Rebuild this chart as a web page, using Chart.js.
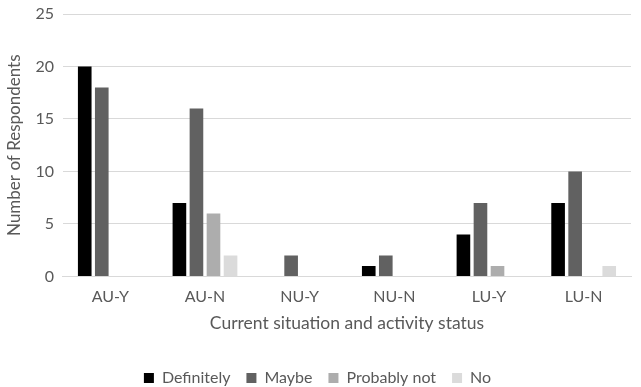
<!DOCTYPE html>
<html>
<head>
<meta charset="utf-8">
<script src="https://cdn.jsdelivr.net/npm/chart.js"></script>
<style>
  html, body { margin: 0; padding: 0; background: #fff; }
  #wrap { width: 641px; height: 387px; }
</style>
</head>
<body>
<div id="wrap"><canvas id="myChart"></canvas></div>
<script>
// categories and series
const categories = ['AU-Y', 'AU-N', 'NU-Y', 'NU-N', 'LU-Y', 'LU-N']
const definitely = [20, 7, 0, 1, 4, 7]
const maybe = [18, 16, 2, 2, 7, 10]
const probablyNot = [0, 6, 0, 0, 1, 0]
const no = [0, 2, 0, 0, 0, 1]
const yTicks = [0, 5, 10, 15, 20, 25]

const font = "Lato, 'Open Sans', sans-serif"
const textColor = '#595959'

const mkSet = (label, data, color) => ({
  label,
  data,
  backgroundColor: color,
  borderWidth: 0,
  categoryPercentage: 0.72,
  barPercentage: 0.8
})

const config = {
  type: 'bar',
  data: {
    labels: categories,
    datasets: [
      mkSet('Definitely', definitely, '#000000'),
      mkSet('Maybe', maybe, '#616161'),
      mkSet('Probably not', probablyNot, '#adadad'),
      mkSet('No', no, '#dbdbdb')
    ]
  },
  options: {
    responsive: true,
    maintainAspectRatio: false,
    animation: false,
    layout: { padding: { left: 4, right: 10, top: 14, bottom: -9 } },
    plugins: {
      legend: {
        position: 'bottom',
        labels: {
          boxWidth: 10,
          boxHeight: 10,
          padding: 16,
          color: textColor,
          font: { family: font, size: 16 }
        }
      },
      tooltip: { enabled: false }
    },
    scales: {
      x: {
        grid: { display: false },
        border: { color: '#d9d9d9' },
        ticks: { color: textColor, font: { family: font, size: 16, lineHeight: 1.1 }, padding: 4 },
        title: {
          display: true,
          text: 'Current situation and activity status',
          color: textColor,
          font: { family: font, size: 17.5 },
          padding: { top: 3, bottom: 20 }
        }
      },
      y: {
        min: 0,
        max: 25,
        afterBuildTicks: axis => { axis.ticks = yTicks.map(v => ({ value: v })) },
        afterFit: axis => { axis.paddingTop = 0 },
        grid: { color: '#d9d9d9', drawTicks: false },
        border: { display: false },
        ticks: { color: textColor, font: { family: font, size: 16, lineHeight: 1 }, padding: 9 },
        title: {
          display: true,
          text: 'Number of Respondents',
          color: textColor,
          font: { family: font, size: 17 },
          padding: { top: 0, bottom: 2 }
        }
      }
    }
  }
}

new Chart(document.getElementById('myChart').getContext('2d'), config)
</script>
</body>
</html>
